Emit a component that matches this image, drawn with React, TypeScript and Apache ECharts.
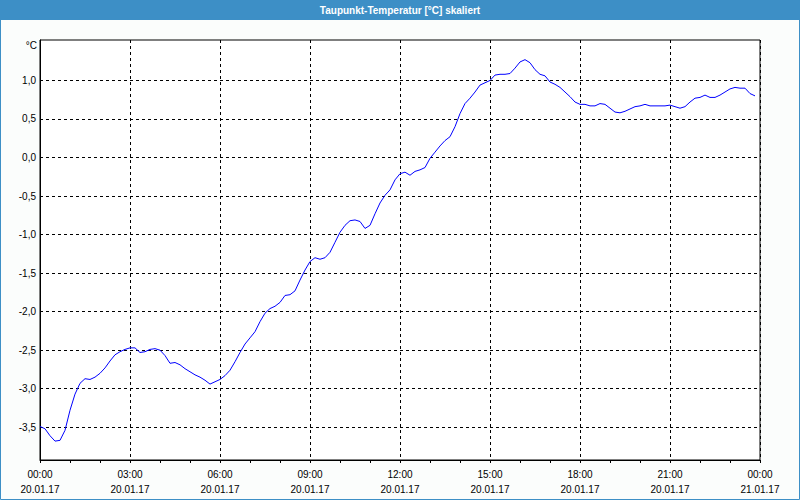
import React, { useEffect, useRef } from "react";
import * as echarts from "echarts";

// minutes after 20.01.17 00:00, every 10 minutes
const minutes: number[] = Array.from({ length: 144 }, (_, i) => i * 10);

const dewpoint: number[] = [
  -3.49, -3.52, -3.61, -3.68, -3.67, -3.54, -3.28, -3.07, -2.93, -2.87,
  -2.88, -2.85, -2.80, -2.73, -2.64, -2.56, -2.52, -2.49, -2.47, -2.47,
  -2.53, -2.52, -2.49, -2.48, -2.50, -2.57, -2.67, -2.66, -2.69, -2.74,
  -2.78, -2.82, -2.85, -2.89, -2.94, -2.91, -2.88, -2.83, -2.76, -2.65,
  -2.53, -2.42, -2.34, -2.26, -2.13, -2.02, -1.96, -1.93, -1.88, -1.79,
  -1.78, -1.73, -1.59, -1.46, -1.35, -1.30, -1.32, -1.30, -1.23, -1.10,
  -0.97, -0.88, -0.82, -0.81, -0.83, -0.92, -0.88, -0.73, -0.59, -0.49,
  -0.42, -0.29, -0.21, -0.19, -0.23, -0.18, -0.16, -0.13, -0.01, 0.07,
  0.15, 0.22, 0.27, 0.40, 0.57, 0.70, 0.77, 0.85, 0.94, 0.97,
  1.00, 1.07, 1.08, 1.08, 1.09, 1.16, 1.24, 1.27, 1.23, 1.14,
  1.08, 1.06, 0.98, 0.95, 0.91, 0.85, 0.79, 0.72, 0.69, 0.69,
  0.67, 0.67, 0.70, 0.69, 0.64, 0.59, 0.58, 0.60, 0.63, 0.66,
  0.67, 0.69, 0.67, 0.67, 0.67, 0.67, 0.68, 0.66, 0.64, 0.66,
  0.72, 0.77, 0.78, 0.81, 0.78, 0.78, 0.81, 0.85, 0.89, 0.91,
  0.90, 0.90, 0.83, 0.80,
];

const yTicks: number[] = [-3.5, -3.0, -2.5, -2.0, -1.5, -1.0, -0.5, 0.0, 0.5, 1.0];
const xTickTimes: string[] = ["00:00", "03:00", "06:00", "09:00", "12:00", "15:00", "18:00", "21:00", "00:00"];
const xTickDates: string[] = ["20.01.17", "20.01.17", "20.01.17", "20.01.17", "20.01.17", "20.01.17", "20.01.17", "20.01.17", "21.01.17"];

const TITLE = "Taupunkt-Temperatur [°C] skaliert";
const UNIT = "°C";

export default function App() {
  const ref = useRef<HTMLDivElement>(null);
  useEffect(() => {
    if (!ref.current) return;
    const chart = echarts.init(ref.current, undefined, { renderer: "svg" });
    const font = "Liberation Sans";
    chart.setOption({
      animation: false,
      backgroundColor: "#fbfdfc",
      grid: {
        left: 40,
        right: 40,
        top: 40,
        bottom: 40,
        show: true,
        borderColor: "#000",
        borderWidth: 1,
        backgroundColor: "#fff",
      },
      xAxis: {
        type: "value",
        min: 0,
        max: 1440,
        interval: 180,
        axisLine: { show: true, onZero: false, lineStyle: { color: "#000", width: 1 } },
        axisTick: { show: true, length: 3, lineStyle: { color: "#000" } },
        minorTick: { show: true, splitNumber: 3, length: 3, lineStyle: { color: "#000" } },
        splitLine: { show: true, lineStyle: { color: "#000", type: [3, 3], width: 1 } },
        axisLabel: {
          margin: 7,
          fontFamily: font,
          fontSize: 10,
          lineHeight: 15,
          color: "#000",
          formatter: (v: number) => {
            const i = Math.round(v / 180);
            return xTickTimes[i] + "\n" + xTickDates[i];
          },
        },
      },
      yAxis: {
        type: "value",
        min: -3.925,
        max: 1.525,
        axisLine: { show: true, lineStyle: { color: "#000", width: 1 } },
        axisTick: { show: false, customValues: yTicks },
        splitLine: { show: true, lineStyle: { color: "#000", type: [3, 3], width: 1 } },
        axisLabel: {
          customValues: yTicks,
          margin: 4,
          fontFamily: font,
          fontSize: 10,
          color: "#000",
          formatter: (v: number) => v.toFixed(1).replace(".", ","),
        },
      },
      graphic: [
        {
          type: "rect",
          shape: { x: 0, y: 0, width: 800, height: 20 },
          style: { fill: "#3d8fc6" },
          silent: true,
        },
        {
          type: "rect",
          shape: { x: 0.5, y: 0.5, width: 799, height: 499 },
          style: { fill: "none", stroke: "#3d8fc6", lineWidth: 1 },
          silent: true,
        },
        {
          type: "text",
          x: 400,
          y: 10,
          style: {
            text: TITLE,
            fill: "#fff",
            font: "bold 10px 'Liberation Sans Narrow', 'Liberation Sans'",
            textAlign: "center",
            textVerticalAlign: "middle",
          },
        },
        {
          type: "text",
          x: 37,
          y: 45,
          style: {
            text: UNIT,
            fill: "#000",
            font: "10px 'Liberation Sans'",
            textAlign: "right",
            textVerticalAlign: "middle",
          },
        },
      ],
      series: [
        {
          type: "line",
          data: minutes.map((m, i) => [m, dewpoint[i]]),
          showSymbol: false,
          symbol: "none",
          lineStyle: { color: "#0000ff", width: 1 },
          itemStyle: { color: "#0000ff" },
        },
      ],
    });
    return () => chart.dispose();
  }, []);
  return (
    <div
      ref={ref}
      style={{ position: "fixed", left: 0, top: 0, width: 800, height: 500 }}
    />
  );
}
